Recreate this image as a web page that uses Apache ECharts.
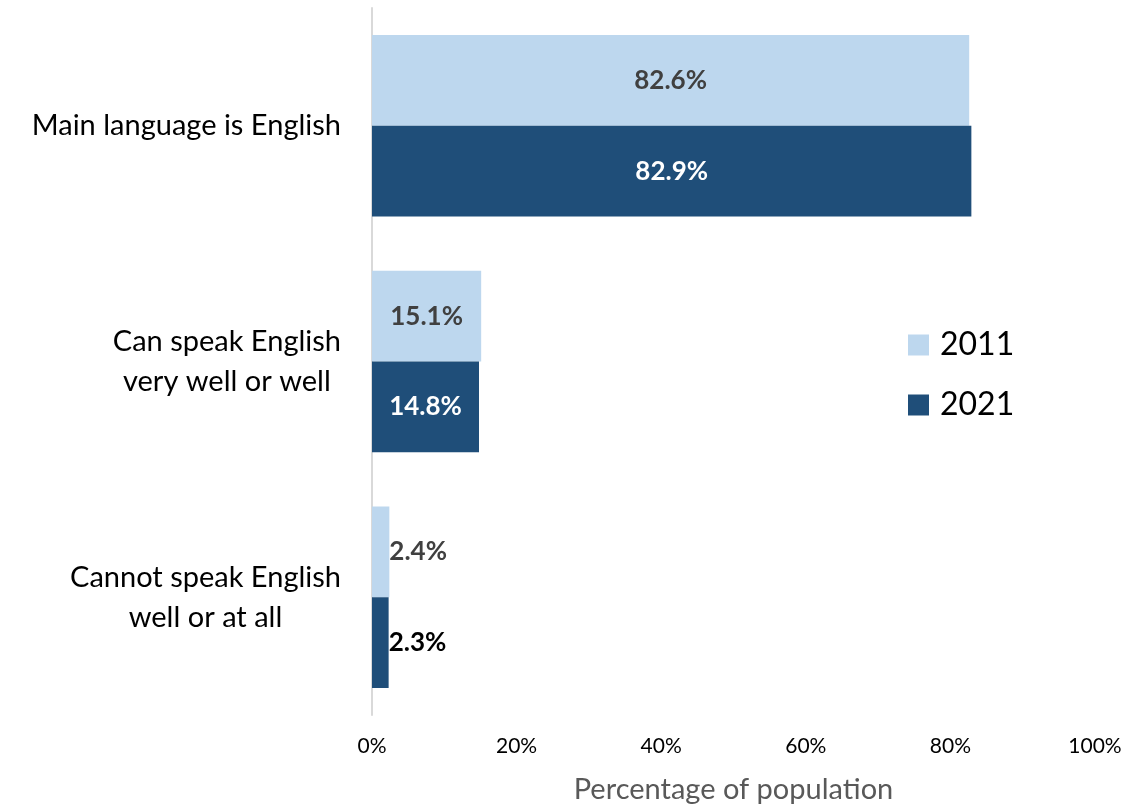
<!DOCTYPE html>
<html>
<head>
<meta charset="utf-8">
<script src="https://cdn.jsdelivr.net/npm/echarts@6/dist/echarts.min.js"></script>
<style>
  html, body { margin: 0; padding: 0; background: #fff; }
  #chart { width: 1145px; height: 804px; }
</style>
</head>
<body>
<div id="chart"></div>
<script>
// categories and values
const categories = [
  'Main language is English',
  'Can speak English\nvery well or well',
  'Cannot speak English\nwell or at all'
]
const years = ['2011', '2021']
const values2011 = [82.6, 15.1, 2.4]
const values2021 = [82.9, 14.8, 2.3]
const xTicks = [0, 20, 40, 60, 80, 100]

const FONT = 'Lato, "Open Sans", sans-serif'
const LIGHT = '#BDD7EE'
const DARK = '#1F4E79'

// small bars get their label outside, to the right
function items(values, insideColor, outsideColor) {
  return values.map(v => {
    if (v < 5) {
      return { value: v, label: { position: 'right', distance: 0, color: outsideColor } }
    }
    return { value: v, label: { position: 'inside', color: insideColor } }
  })
}

const chart = echarts.init(document.getElementById('chart'))

chart.setOption({
  animation: false,
  textStyle: { fontFamily: FONT },
  grid: { left: 372, right: 50, top: 8, bottom: 89, outerBoundsMode: 'none', containLabel: false },
  legend: {
    data: years,
    orient: 'vertical',
    left: 903,
    top: 324,
    icon: 'rect',
    itemWidth: 21,
    itemHeight: 21,
    itemGap: 28,
    textStyle: { fontSize: 32, color: '#000', fontFamily: FONT, padding: [0, 0, 0, 6] }
  },
  xAxis: {
    type: 'value',
    min: xTicks[0],
    max: xTicks[xTicks.length - 1],
    interval: 20,
    axisLine: { show: false },
    axisTick: { show: false },
    splitLine: { show: false },
    axisLabel: {
      margin: 21,
      fontSize: 21,
      color: '#000',
      fontFamily: FONT,
      formatter: v => v + '%'
    },
    name: 'Percentage of population',
    nameLocation: 'middle',
    nameGap: 60,
    nameTextStyle: { fontSize: 29, color: '#595959', fontFamily: FONT }
  },
  yAxis: {
    type: 'category',
    data: categories,
    inverse: true,
    axisLine: { show: true, lineStyle: { color: '#D9D9D9', width: 2 } },
    axisTick: { show: false },
    axisLabel: {
      margin: 31,
      formatter: v => '{c|' + v.split('\n').join('}\n{c|') + '}',
      rich: {
        c: { fontSize: 29, lineHeight: 40, color: '#000', align: 'center', fontFamily: FONT }
      }
    }
  },
  series: [
    {
      name: years[0],
      type: 'bar',
      data: items(values2011, '#404040', '#404040'),
      itemStyle: { color: LIGHT },
      barGap: '0%',
      barCategoryGap: '23%',
      label: {
        show: true,
        fontSize: 26,
        fontWeight: 'bold',
        fontFamily: FONT,
        formatter: p => p.value.toFixed(1) + '%'
      }
    },
    {
      name: years[1],
      type: 'bar',
      data: items(values2021, '#FFFFFF', '#000000'),
      itemStyle: { color: DARK },
      barGap: '0%',
      barCategoryGap: '23%',
      label: {
        show: true,
        fontSize: 26,
        fontWeight: 'bold',
        fontFamily: FONT,
        formatter: p => p.value.toFixed(1) + '%'
      }
    }
  ]
})
</script>
</body>
</html>
